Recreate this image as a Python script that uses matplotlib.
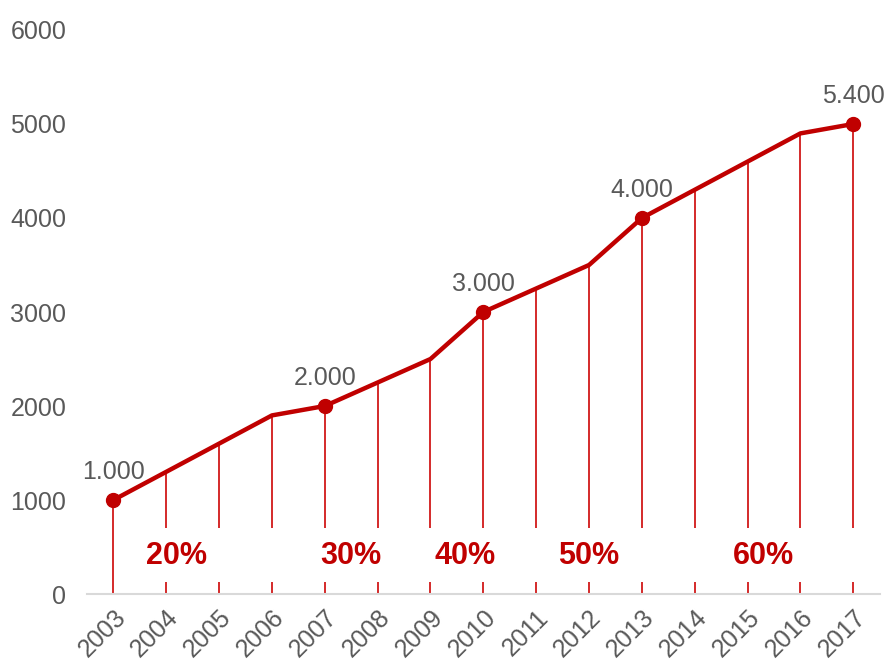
import matplotlib.pyplot as plt

plt.rcParams['font.family'] = ['Liberation Sans', 'DejaVu Sans']

# data
years = [2003, 2004, 2005, 2006, 2007, 2008, 2009, 2010,
         2011, 2012, 2013, 2014, 2015, 2016, 2017]
values = [1000, 1300, 1600, 1900, 2000, 2250, 2500, 3000,
          3250, 3500, 4000, 4300, 4600, 4900, 5000]

marked_years = [2003, 2007, 2010, 2013, 2017]
marked_labels = ['1.000', '2.000', '3.000', '4.000', '5.400']

pct_labels = ['20%', '30%', '40%', '50%', '60%']
pct_pos = [2004.2, 2007.5, 2009.65, 2012.0, 2015.3]
pct_y = 400

red = '#c00000'
gray = '#595959'

fig = plt.figure(figsize=(8.85, 6.62), dpi=100)
ax = fig.add_axes([0.0983, 0.1027, 0.8957, 0.852])

# drop lines from each point
ax.vlines(years, 0, values, color='#d42a2a', linewidth=1.4, zorder=2)
# white band behind the percent labels
ax.fill_between([2003.5, 2017.5], 130, 700, color='white', zorder=3, linewidth=0)

ax.plot(years, values, color=red, linewidth=3.2, zorder=4, solid_capstyle='round')
mk_vals = [values[years.index(y)] for y in marked_years]
ax.plot(marked_years, mk_vals, 'o', color=red, markersize=10, zorder=5)

for x, v, lab in zip(marked_years, mk_vals, marked_labels):
    ax.text(x, v + 170, lab, ha='center', va='bottom', fontsize=18, color=gray, zorder=6)

for x, lab in zip(pct_pos, pct_labels):
    ax.text(x, pct_y, lab, ha='center', va='center', fontsize=22,
            fontweight='bold', color=red, zorder=6)

ax.set_xlim(2002.5, 2017.5)
ax.set_ylim(0, 6000)
ax.set_yticks(range(0, 6001, 1000))
ax.set_xticks(years)
ax.set_xticklabels([str(y) for y in years], rotation=45, ha='right',
                   rotation_mode='anchor')
ax.tick_params(axis='both', length=0, labelsize=18, labelcolor=gray)
ax.tick_params(axis='y', pad=15)
ax.tick_params(axis='x', pad=8)

for s in ['top', 'right', 'left']:
    ax.spines[s].set_visible(False)
ax.spines['bottom'].set_color('#d9d9d9')
ax.spines['bottom'].set_linewidth(1.5)

fig.savefig('out.png', dpi=100)
